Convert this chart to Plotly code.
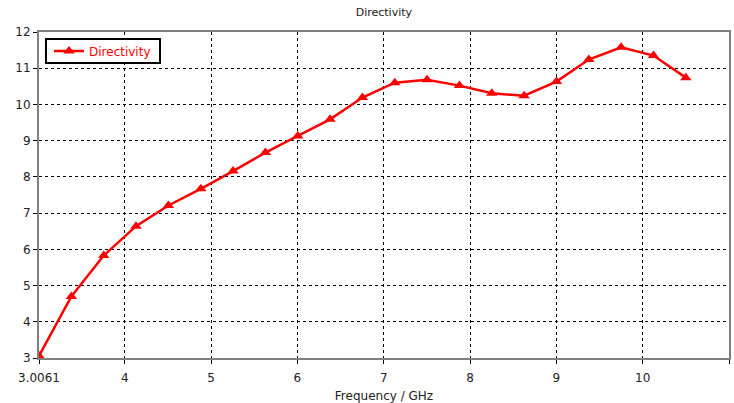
import plotly.graph_objects as go

freq = [3.0061, 3.381, 3.756, 4.13, 4.505, 4.88, 5.254, 5.629, 6.004, 6.378,
        6.753, 7.128, 7.502, 7.877, 8.252, 8.626, 9.001, 9.376, 9.75, 10.125, 10.5]
directivity = [3.06, 4.70, 5.83, 6.64, 7.21, 7.67, 8.16, 8.67, 9.13, 9.59,
               10.19, 10.60, 10.68, 10.52, 10.31, 10.24, 10.63, 11.24, 11.58, 11.35, 10.74]
x_ticks = [3.0061, 4, 5, 6, 7, 8, 9, 10, 11]
x_tick_text = ["3.0061", "4", "5", "6", "7", "8", "9", "10", "11"]
y_ticks = [3, 4, 5, 6, 7, 8, 9, 10, 11, 12]

font_family = "DejaVu Sans, Verdana, sans-serif"

fig = go.Figure()
fig.add_trace(go.Scatter(
    x=freq, y=directivity, mode="lines+markers", name="Directivity",
    line=dict(color="#ff0000", width=2.5),
    marker=dict(symbol="triangle-up", size=10, color="#ff0000"),
))

# legend frame
fig.add_shape(type="rect", xref="paper", yref="paper",
              x0=0.0101, x1=0.1754, y0=0.9049, y1=0.9785,
              line=dict(color="black", width=2), fillcolor="white", layer="above")

fig.update_layout(
    width=734, height=403,
    margin=dict(l=39, r=5, t=32, b=45),
    paper_bgcolor="white", plot_bgcolor="white",
    font=dict(family=font_family, size=12, color="#222"),
    title=dict(text="Directivity", x=0.523, xanchor="center", y=0.97, yanchor="middle",
               font=dict(family=font_family, size=11, color="#222")),
    showlegend=True,
    legend=dict(x=0.0145, y=0.9417, xanchor="left", yanchor="middle",
                borderwidth=0, bgcolor="rgba(0,0,0,0)",
                font=dict(family=font_family, size=12, color="#ff0000"),
                itemwidth=30),
    xaxis=dict(
        range=[3.0061, 11], tickmode="array", tickvals=x_ticks, ticktext=x_tick_text,
        automargin=False,
        showgrid=True, gridcolor="black", griddash="3px,3px", gridwidth=1,
        showline=True, linecolor="#808080", linewidth=2, mirror=True,
        ticks="outside", ticklen=4, tickcolor="black", ticklabelstandoff=4,
        tickfont=dict(family=font_family, size=12, color="#222"),
        title=dict(text="Frequency / GHz", standoff=9,
                   font=dict(family=font_family, size=12, color="#222")),
        zeroline=False,
    ),
    yaxis=dict(
        range=[3, 12], tickmode="array", tickvals=y_ticks,
        automargin=False,
        showgrid=True, gridcolor="black", griddash="3px,3px", gridwidth=1,
        showline=True, linecolor="#808080", linewidth=2, mirror=True,
        ticks="outside", ticklen=4, tickcolor="black",
        tickfont=dict(family=font_family, size=12, color="#222"),
        zeroline=False,
    ),
)

fig.write_html("out.html", config={"displayModeBar": False},
               post_script="document.body.style.margin='0px';")
